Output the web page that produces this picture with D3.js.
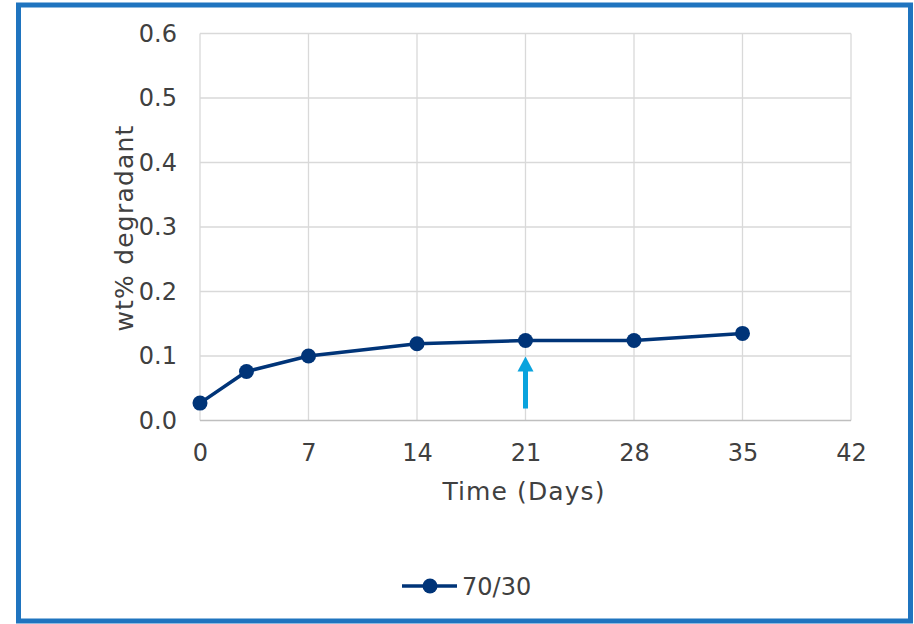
<!DOCTYPE html>
<html>
<head>
<meta charset="utf-8">
<script src="https://cdn.jsdelivr.net/npm/d3@7"></script>
<style>
  body { margin: 0; background: #fff; }
  text { font-family: "DejaVu Sans", Verdana, sans-serif; fill: #404040; }
</style>
</head>
<body>
<svg id="chart"></svg>
<script>
const days = [0, 3, 7, 14, 21, 28, 35];
const degradant = [0.027, 0.076, 0.100, 0.119, 0.124, 0.124, 0.135];
const xTicks = [0, 7, 14, 21, 28, 35, 42];
const yTicks = [0, 0.1, 0.2, 0.3, 0.4, 0.5, 0.6];
const seriesName = '70/30';
const arrowDay = 21;

const width = 914;
const height = 624;
const plot = { left: 200, right: 851, top: 33.5, bottom: 420.5 };

const svg = d3.select('#chart')
  .attr('width', width)
  .attr('height', height);

// outer frame
svg.append('rect')
  .attr('x', 18.5)
  .attr('y', 5)
  .attr('width', 892)
  .attr('height', 616)
  .attr('fill', '#fff')
  .attr('stroke', '#1F74BF')
  .attr('stroke-width', 5);

const x = d3.scaleLinear().domain([0, 42]).range([plot.left, plot.right]);
const y = d3.scaleLinear().domain([0, 0.6]).range([plot.bottom, plot.top]);

// grid
svg.append('g')
  .selectAll('line')
  .data(xTicks)
  .enter()
  .append('line')
  .attr('x1', d => x(d)).attr('x2', d => x(d))
  .attr('y1', plot.top).attr('y2', plot.bottom)
  .attr('stroke', '#d9d9d9')
  .attr('stroke-width', 1.3);

svg.append('g')
  .selectAll('line')
  .data(yTicks)
  .enter()
  .append('line')
  .attr('x1', plot.left).attr('x2', plot.right)
  .attr('y1', d => y(d)).attr('y2', d => y(d))
  .attr('stroke', d => d === 0 ? '#bfbfbf' : '#d9d9d9')
  .attr('stroke-width', 1.3);

// axes (labels only)
const xAxis = d3.axisBottom(x).tickValues(xTicks).tickSize(0).tickPadding(23).tickFormat(d3.format('d'));
const yAxis = d3.axisLeft(y).tickValues(yTicks).tickSize(0).tickPadding(23).tickFormat(d3.format('.1f'));

const gx = svg.append('g')
  .attr('transform', 'translate(0,' + plot.bottom + ')')
  .call(xAxis);
gx.select('.domain').remove();
gx.selectAll('text').attr('font-size', 24).attr('fill', '#404040').attr('font-family', '"DejaVu Sans", Verdana, sans-serif');

const gy = svg.append('g')
  .attr('transform', 'translate(' + plot.left + ',0)')
  .call(yAxis);
gy.select('.domain').remove();
gy.selectAll('text').attr('font-size', 24).attr('fill', '#404040').attr('font-family', '"DejaVu Sans", Verdana, sans-serif');

// axis titles
svg.append('text')
  .attr('x', 524)
  .attr('y', 500)
  .attr('text-anchor', 'middle')
  .attr('font-size', 25)
  .attr('letter-spacing', 1.1)
  .text('Time (Days)');

svg.append('text')
  .attr('transform', 'translate(133,' + 228 + ') rotate(-90)')
  .attr('text-anchor', 'middle')
  .attr('font-size', 25)
  .attr('letter-spacing', 1.2)
  .text('wt% degradant');

// series
const data = days.map((d, i) => ({ day: d, value: degradant[i] }));

svg.append('path')
  .datum(data)
  .attr('fill', 'none')
  .attr('stroke', '#003478')
  .attr('stroke-width', 3.5)
  .attr('d', d3.line().x(d => x(d.day)).y(d => y(d.value)));

svg.append('g')
  .selectAll('circle')
  .data(data)
  .enter()
  .append('circle')
  .attr('cx', d => x(d.day))
  .attr('cy', d => y(d.value))
  .attr('r', 7.5)
  .attr('fill', '#003478');

// arrow under day 21
const ax = x(arrowDay);
const tipY = y(degradant[days.indexOf(arrowDay)]) + 16;
svg.append('line')
  .attr('x1', ax).attr('x2', ax)
  .attr('y1', tipY + 12).attr('y2', tipY + 52)
  .attr('stroke', '#0AA3DD')
  .attr('stroke-width', 5);
svg.append('path')
  .attr('d', 'M' + ax + ',' + tipY + 'L' + (ax - 8) + ',' + (tipY + 15) + 'L' + (ax + 8) + ',' + (tipY + 15) + 'Z')
  .attr('fill', '#0AA3DD');

// legend
const legend = svg.append('g').attr('transform', 'translate(402,586)');
legend.append('line')
  .attr('x1', 0).attr('x2', 55)
  .attr('y1', 0).attr('y2', 0)
  .attr('stroke', '#003478')
  .attr('stroke-width', 3.5);
legend.append('circle')
  .attr('cx', 28).attr('cy', 0).attr('r', 7.5)
  .attr('fill', '#003478');
legend.append('text')
  .attr('x', 60)
  .attr('y', 9)
  .attr('font-size', 24)
  .text(seriesName);
</script>
</body>
</html>
